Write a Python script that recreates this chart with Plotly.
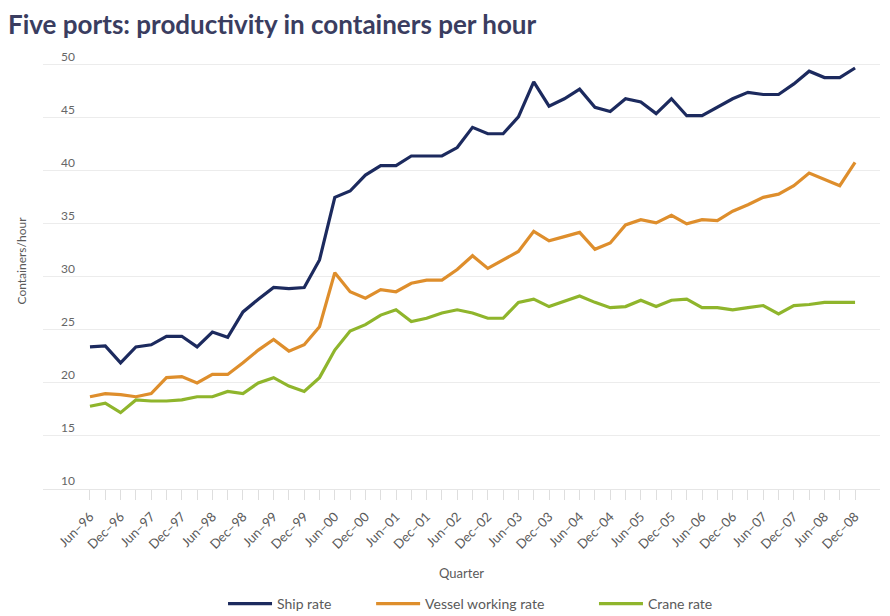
import plotly.graph_objects as go

quarters = [
    "Jun–96", "Sep–96", "Dec–96", "Mar–97", "Jun–97", "Sep–97", "Dec–97",
    "Mar–98", "Jun–98", "Sep–98", "Dec–98", "Mar–99", "Jun–99", "Sep–99", "Dec–99",
    "Mar–00", "Jun–00", "Sep–00", "Dec–00", "Mar–01", "Jun–01", "Sep–01", "Dec–01",
    "Mar–02", "Jun–02", "Sep–02", "Dec–02", "Mar–03", "Jun–03", "Sep–03", "Dec–03",
    "Mar–04", "Jun–04", "Sep–04", "Dec–04", "Mar–05", "Jun–05", "Sep–05", "Dec–05",
    "Mar–06", "Jun–06", "Sep–06", "Dec–06", "Mar–07", "Jun–07", "Sep–07", "Dec–07",
    "Mar–08", "Jun–08", "Sep–08", "Dec–08",
]

ship_rate = [
    23.4, 23.5, 21.9, 23.4, 23.6, 24.4, 24.4, 23.4, 24.8, 24.3,
    26.7, 27.9, 29.0, 28.9, 29.0, 31.6, 37.5, 38.1, 39.6, 40.5,
    40.5, 41.4, 41.4, 41.4, 42.2, 44.1, 43.5, 43.5, 45.1, 48.4,
    46.1, 46.8, 47.7, 46.0, 45.6, 46.8, 46.5, 45.4, 46.8, 45.2,
    45.2, 46.0, 46.8, 47.4, 47.2, 47.2, 48.2, 49.4, 48.8, 48.8, 49.7,
]

vessel_working_rate = [
    18.7, 19.0, 18.9, 18.7, 19.0, 20.5, 20.6, 20.0, 20.8, 20.8,
    21.9, 23.1, 24.1, 23.0, 23.6, 25.3, 30.4, 28.6, 28.0, 28.8,
    28.6, 29.4, 29.7, 29.7, 30.7, 32.0, 30.8, 31.6, 32.4, 34.3,
    33.4, 33.8, 34.2, 32.6, 33.2, 34.9, 35.4, 35.1, 35.8, 35.0,
    35.4, 35.3, 36.2, 36.8, 37.5, 37.8, 38.6, 39.8, 39.2, 38.6, 40.8,
]

crane_rate = [
    17.8, 18.1, 17.2, 18.4, 18.3, 18.3, 18.4, 18.7, 18.7, 19.2,
    19.0, 20.0, 20.5, 19.7, 19.2, 20.5, 23.1, 24.9, 25.5, 26.4,
    26.9, 25.8, 26.1, 26.6, 26.9, 26.6, 26.1, 26.1, 27.6, 27.9,
    27.2, 27.7, 28.2, 27.6, 27.1, 27.2, 27.8, 27.2, 27.8, 27.9,
    27.1, 27.1, 26.9, 27.1, 27.3, 26.5, 27.3, 27.4, 27.6, 27.6, 27.6,
]

y_ticks = [10, 15, 20, 25, 30, 35, 40, 45, 50]

series = [
    ("Ship rate", ship_rate, "#1c2a5e", "legend", 0.2416),
    ("Vessel working rate", vessel_working_rate, "#de8e2c", "legend2", 0.408),
    ("Crane rate", crane_rate, "#8fb52c", "legend3", 0.6584),
]

FONT = "Lato"
TXT = "#5a5a5a"

fig = go.Figure()
legend_layouts = {}
for name, vals, color, leg, lx in series:
    fig.add_trace(go.Scatter(
        x=quarters, y=vals, name=name, mode="lines",
        line=dict(color=color, width=3.2),
        legend=leg,
    ))
    legend_layouts[leg] = dict(
        orientation="h", xref="container", yref="container",
        x=lx, xanchor="left", y=0.0325, yanchor="middle",
        itemwidth=44,
        font=dict(family=FONT, size=14, color=TXT),
        bgcolor="rgba(0,0,0,0)", borderwidth=0,
    )

tick_text = [q if i % 2 == 0 else "" for i, q in enumerate(quarters)]

fig.update_layout(
    width=890, height=616,
    margin=dict(l=35, r=18, t=25, b=135),
    paper_bgcolor="white", plot_bgcolor="white",
    font=dict(family=FONT, color=TXT, size=11),
    title=dict(
        text="<b>Five ports: productivity in containers per hour</b>",
        x=0.0, xanchor="left", y=1 - 17 / 616, yanchor="middle",
        xref="container", yref="container", automargin=False,
        font=dict(family=FONT, size=26, color="#3a3d60"),
    ),
    showlegend=True,
    xaxis=dict(
        type="category",
        range=[-3.07, 51.63],
        automargin=False,
        tickmode="array", tickvals=quarters, ticktext=tick_text,
        tickangle=-45,
        ticks="outside", ticklen=10, tickcolor="#dedede",
        ticklabelstandoff=4,
        showgrid=False, showline=True, linecolor="#e6e6e6",
        zeroline=False,
        tickfont=dict(family=FONT, size=13, color=TXT),
        title=dict(text="Quarter", standoff=17, font=dict(family=FONT, size=13, color=TXT)),
    ),
    yaxis=dict(
        range=[10, 53.0],
        automargin=False,
        tickmode="array", tickvals=y_ticks,
        showgrid=True, gridcolor="#ececec", gridwidth=1,
        zeroline=False, showline=False,
        ticklabelposition="inside top",
        ticklabelstandoff=15,
        tickfont=dict(family=FONT, size=12, color="#666666"),
        title=dict(text="Containers/hour", standoff=31, font=dict(family=FONT, size=12, color=TXT)),
    ),
    **legend_layouts,
)

fig.write_html("out.html")
